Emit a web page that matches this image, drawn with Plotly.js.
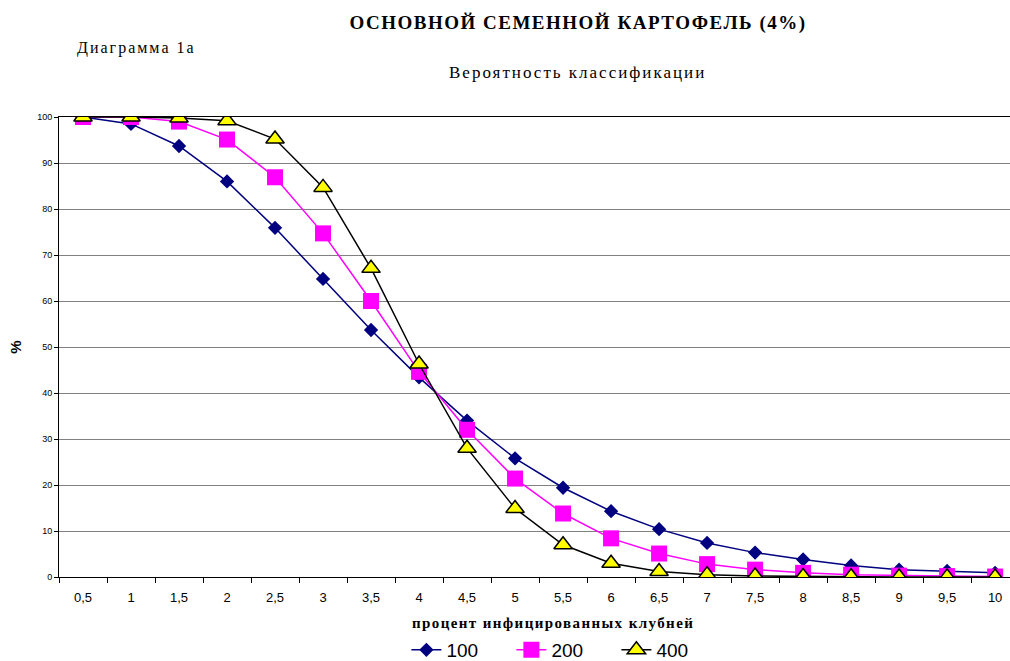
<!DOCTYPE html>
<html>
<head>
<meta charset="utf-8">
<script src="https://cdn.plot.ly/plotly-3.0.1.min.js"></script>
<style>
  html, body { margin: 0; padding: 0; background: #ffffff; }
  #chart { width: 1010px; height: 661px; }
  #chart .gtitle { letter-spacing: 1.5px; }
  #chart g.annotation[data-index="0"] .annotation-text { letter-spacing: 2px; }
  #chart g.annotation[data-index="1"] .annotation-text { letter-spacing: 2px; }
  #chart g.annotation[data-index="2"] .annotation-text { letter-spacing: 1.4px; }
</style>
</head>
<body>
<div id="chart"></div>
<script>
// Categories (percent of infected tubers)
const categories = ["0,5","1","1,5","2","2,5","3","3,5","4","4,5","5","5,5","6","6,5","7","7,5","8","8,5","9","9,5","10"];

// Probability of classification, %, per sample size
const series100 = [100, 98.5, 93.7, 86.0, 75.9, 64.8, 53.7, 43.4, 34.0, 25.8, 19.4, 14.3, 10.4, 7.4, 5.3, 3.8, 2.5, 1.6, 1.3, 0.9];
const series200 = [100, 100, 99.0, 95.1, 86.9, 74.7, 60.0, 44.6, 32.0, 21.4, 13.8, 8.4, 5.1, 2.8, 1.6, 0.9, 0.5, 0.3, 0.2, 0.1];
const series400 = [100, 100, 99.8, 99.2, 95.2, 84.7, 67.1, 46.3, 28.0, 14.9, 7.0, 3.0, 1.2, 0.5, 0.2, 0.1, 0.05, 0, 0, 0];

const seriesNames = ["100", "200", "400"];
const yTicks = [0, 10, 20, 30, 40, 50, 60, 70, 80, 90, 100];

const traces = [
  {
    x: categories, y: series100, name: seriesNames[0], type: "scatter", mode: "lines+markers",
    line: { color: "#000080", width: 1.5 },
    marker: { symbol: "diamond", size: 11, color: "#000080" }
  },
  {
    x: categories, y: series200, name: seriesNames[1], type: "scatter", mode: "lines+markers",
    line: { color: "#FF00FF", width: 1.5 },
    marker: { symbol: "square", size: 16, color: "#FF00FF" }
  },
  {
    x: categories, y: series400, name: seriesNames[2], type: "scatter", mode: "lines+markers",
    line: { color: "#000000", width: 1.5 },
    marker: { symbol: "triangle-up", size: 16, color: "#FFFF00", line: { color: "#000000", width: 1.5 } }
  }
];

const serif = "'Liberation Serif', 'Times New Roman', serif";
const sans = "'Liberation Sans', Arial, sans-serif";

const layout = {
  width: 1010, height: 661,
  margin: { l: 59, r: 0, t: 117, b: 84, pad: 0, autoexpand: false },
  paper_bgcolor: "#ffffff", plot_bgcolor: "#ffffff",
  showlegend: true,
  title: {
    text: "<b>ОСНОВНОЙ СЕМЕННОЙ КАРТОФЕЛЬ (4%)</b>",
    x: 0.5723, xref: "container", xanchor: "center",
    y: 0.9667, yref: "container", yanchor: "middle",
    font: { family: serif, size: 19, color: "#000000" }
  },
  xaxis: {
    type: "category", categoryorder: "array", categoryarray: categories,
    range: [-0.5, 19.31],
    tickson: "boundaries", ticks: "outside", ticklen: 5, tickcolor: "#000000", tickwidth: 1,
    ticklabelstandoff: 8,
    showline: true, linecolor: "#000000", linewidth: 1, mirror: true,
    showgrid: false, zeroline: false,
    tickfont: { family: sans, size: 13, color: "#000000" },
    automargin: false,
    fixedrange: true
  },
  yaxis: {
    range: [0, 100], tickvals: yTicks, ticktext: yTicks.map(String),
    ticks: "outside", ticklen: 4, tickcolor: "#000000",
    showline: true, linecolor: "#000000", linewidth: 1,
    showgrid: true, gridcolor: "#808080", gridwidth: 1, zeroline: false,
    tickfont: { family: sans, size: 9, color: "#000000" },
    title: { text: "<b>%</b>", font: { family: sans, size: 15, color: "#000000" }, standoff: 11 },
    automargin: false,
    fixedrange: true
  },
  legend: {
    orientation: "h", x: 0.3653, xanchor: "left", xref: "paper",
    y: -0.1587, yanchor: "middle", yref: "paper",
    font: { family: sans, size: 19, color: "#000000" },
    bgcolor: "rgba(0,0,0,0)", borderwidth: 0,
    entrywidth: 60, entrywidthmode: "pixels"
  },
  annotations: [
    {
      text: "Диаграмма 1а", xref: "paper", yref: "paper", x: 0.0294, y: 1.15,
      xanchor: "left", yanchor: "middle", showarrow: false,
      font: { family: serif, size: 16, color: "#000000" }
    },
    {
      text: "Вероятность классификации", xref: "paper", yref: "paper", x: 0.5457, y: 1.0957,
      xanchor: "center", yanchor: "middle", showarrow: false,
      font: { family: serif, size: 17, color: "#000000" }
    },
    {
      text: "<b>процент инфицированных клубней</b>", xref: "paper", yref: "paper", x: 0.5195, y: -0.1,
      xanchor: "center", yanchor: "middle", showarrow: false,
      font: { family: serif, size: 15, color: "#000000" }
    }
  ]
};

Plotly.newPlot("chart", traces, layout, { displayModeBar: false, staticPlot: true });
</script>
</body>
</html>
